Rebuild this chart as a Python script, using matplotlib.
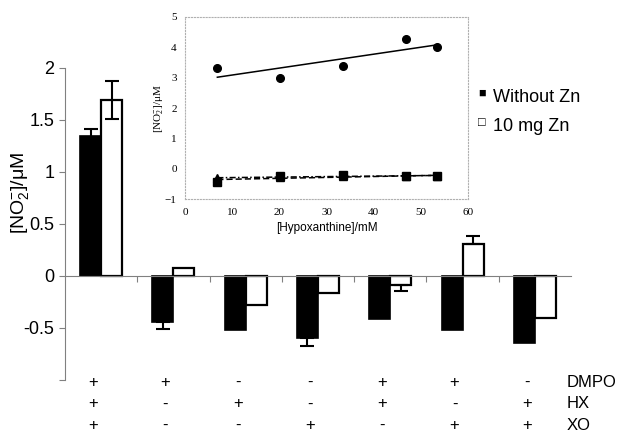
import numpy as np
import matplotlib
matplotlib.use("Agg")
import matplotlib.pyplot as plt

plt.rcParams["font.family"] = ["Liberation Sans", "DejaVu Sans"]
plt.rcParams["mathtext.default"] = "regular"

# bar chart: NO2- with and without Zn, for each reagent combination
without_zn = [1.34, -0.44, -0.52, -0.60, -0.41, -0.52, -0.645]
without_lo = [0.07, 0.07, 0.0, 0.07, 0.0, 0.0, 0.0]
without_hi = [0.07, 0.0, 0.0, 0.0, 0.0, 0.0, 0.0]
with_zn = [1.69, 0.08, -0.28, -0.16, -0.09, 0.31, -0.405]
with_lo = [0.18, 0.0, 0.0, 0.0, 0.06, 0.0, 0.0]
with_hi = [0.18, 0.0, 0.0, 0.0, 0.0, 0.07, 0.0]
dmpo = ["+", "+", "-", "-", "+", "+", "-"]
hx = ["+", "-", "+", "-", "+", "-", "+"]
xo = ["+", "-", "-", "+", "-", "+", "+"]
row_names = ["DMPO", "HX", "XO"]

# inset: NO2- against hypoxanthine
hx_conc = [6.85, 20.1, 33.4, 46.9, 53.5]
circles = [3.31, 2.98, 3.40, 4.27, 4.02]
squares = [-0.42, -0.25, -0.20, -0.25, -0.25]
triangles = [-0.30, -0.27, -0.22, -0.24, -0.22]

fig = plt.figure(figsize=(6.23, 4.32), dpi=100)
ax = fig.add_axes([0.1043, 0.1204, 0.8122, 0.7231])

x = np.arange(len(without_zn))
w = 0.29
ax.bar(x - w / 2, without_zn, w, color="black", edgecolor="black", lw=1.2)
ax.bar(x + w / 2, with_zn, w, color="white", edgecolor="black", lw=1.6)
for xs, vals, lo, hi in ((x - w / 2, without_zn, without_lo, without_hi),
                         (x + w / 2, with_zn, with_lo, with_hi)):
    for xi, v, el, eh in zip(xs, vals, lo, hi):
        if el > 0 or eh > 0:
            ax.errorbar(xi, v, yerr=[[el], [eh]], fmt="none", ecolor="black",
                        elinewidth=1.5, capsize=5, capthick=1.5)

ax.set_xlim(-0.5, len(x) - 0.5)
ax.set_ylim(-1, 2)
ax.set_yticks([-1, -0.5, 0, 0.5, 1, 1.5, 2])
ax.set_yticklabels(["", "-0.5", "0", "0.5", "1", "1.5", "2"], fontsize=13)
ax.set_xticks(np.arange(len(x) - 1) + 0.5)
ax.set_xticklabels([])
for s in ("top", "right"):
    ax.spines[s].set_visible(False)
ax.spines["bottom"].set_position(("data", 0))
ax.spines["bottom"].set_color("#808080")
ax.spines["left"].set_color("#808080")
ax.tick_params(colors="#808080", labelcolor="black", length=4, direction="out")
ax.set_ylabel("[NO$_2^{-}$]/μM", fontsize=14)
ax.yaxis.set_label_coords(-0.067, 0.6)

# reagent table under the bars
for row, (name, signs) in enumerate(zip(row_names, (dmpo, hx, xo))):
    ypos = -1.025 - row * 0.205
    for xi, s in zip(x, signs):
        ax.text(xi - 0.11, ypos, s, ha="center", va="center", fontsize=12,
                clip_on=False)
    ax.text(6.44, ypos, name, ha="left", va="center", fontsize=12, clip_on=False)

# legend
fig.text(0.768, 0.784, "■", fontsize=9, ha="left", va="center")
fig.text(0.791, 0.775, "Without Zn", fontsize=13, ha="left", va="center")
fig.text(0.768, 0.716, "□", fontsize=9, ha="left", va="center")
fig.text(0.791, 0.708, "10 mg Zn", fontsize=13, ha="left", va="center")

# inset
ins = fig.add_axes([0.297, 0.5387, 0.4543, 0.422])
ins.plot(hx_conc, circles, "o", color="black", ms=5.5)
ins.plot(hx_conc, triangles, "^", color="black", ms=5.5)
ins.plot(hx_conc, squares, "s", color="black", ms=5.5)
xx = np.array([hx_conc[0], hx_conc[-1]])
for vals, ls in ((circles, "-"), (squares, (0, (4, 2))), (triangles, (0, (4, 1.5, 1, 1.5)))):
    k, b = np.polyfit(hx_conc, vals, 1)
    ins.plot(xx, k * xx + b, color="black", lw=1.1, ls=ls)
ins.set_xlim(0, 60)
ins.set_ylim(-1, 5)
ins.set_xticks(range(0, 61, 10))
ins.set_yticks(range(-1, 6))
ins.tick_params(length=0, labelsize=8, pad=6)
for lab in ins.get_xticklabels() + ins.get_yticklabels():
    lab.set_family("Liberation Serif")
for s in ins.spines.values():
    s.set_color("#b0b0b0")
    s.set_linestyle(":")
    s.set_linewidth(0.8)
ins.set_ylabel("[NO$_2^{-}$]/μM", fontsize=8, family="Liberation Serif", labelpad=-1)
ins.set_xlabel("[Hypoxanthine]/mM", fontsize=8.5, labelpad=4)

fig.savefig("out.png", dpi=100)
